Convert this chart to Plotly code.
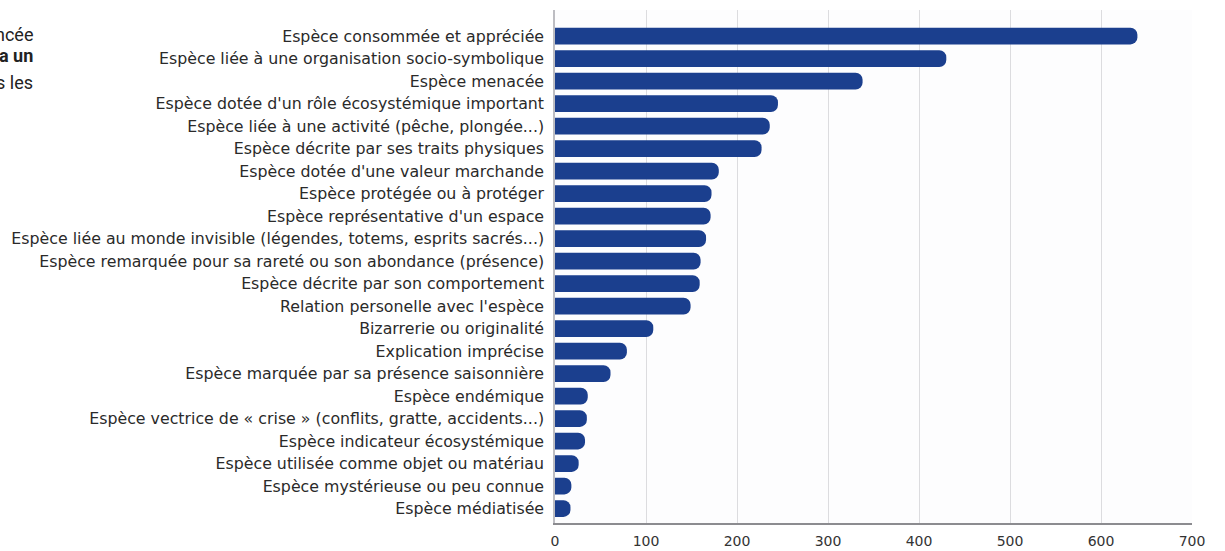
import plotly.graph_objects as go

categories = [
    "Espèce consommée et appréciée",
    "Espèce liée à une organisation socio-symbolique",
    "Espèce menacée",
    "Espèce dotée d'un rôle écosystémique important",
    "Espèce liée à une activité (pêche, plongée...)",
    "Espèce décrite par ses traits physiques",
    "Espèce dotée d'une valeur marchande",
    "Espèce protégée ou à protéger",
    "Espèce représentative d'un espace",
    "Espèce liée au monde invisible (légendes, totems, esprits sacrés...)",
    "Espèce remarquée pour sa rareté ou son abondance (présence)",
    "Espèce décrite par son comportement",
    "Relation personelle avec l'espèce",
    "Bizarrerie ou originalité",
    "Explication imprécise",
    "Espèce marquée par sa présence saisonnière",
    "Espèce endémique",
    "Espèce vectrice de « crise » (conflits, gratte, accidents...)",
    "Espèce indicateur écosystémique",
    "Espèce utilisée comme objet ou matériau",
    "Espèce mystérieuse ou peu connue",
    "Espèce médiatisée",
]
values = [640, 430, 338, 245, 236, 227, 180, 172, 171, 166, 160, 159, 149,
          108, 79, 61, 36, 35, 33, 26, 18, 17]
x_ticks = [0, 100, 200, 300, 400, 500, 600, 700]

L, R, T, B = 555, 1192, 10, 523
W, H = 1225, 551

def px_x(p):
    return (p - L) / (R - L)

def px_y(p):
    return (B - p) / (B - T)

fig = go.Figure(go.Bar(
    x=values, y=categories, orientation="h",
    marker=dict(color="#1b3f8e", cornerradius="45%", line=dict(width=0)),
    width=0.74, hoverinfo="x+y",
))

frags = [("ncée", 34), ("<b>a un</b>", 55), ("s les", 82)]
ann = []
for txt, py in frags:
    ann.append(dict(text=txt, xref="paper", yref="paper", x=px_x(35), y=px_y(py),
                    xanchor="right", yanchor="middle", showarrow=False,
                    font=dict(family="Roboto", size=18, color="#222")))

fig.update_layout(
    width=W, height=H,
    margin=dict(l=L, r=W - R, t=T, b=H - B, pad=0, autoexpand=False),
    paper_bgcolor="white", plot_bgcolor="#fdfdfe",
    showlegend=False,
    annotations=ann,
    font=dict(family="DejaVu Sans", size=15.8, color="#2a2a2a"),
    xaxis=dict(range=[0, 700], tickvals=x_ticks, showgrid=True,
               gridcolor="#dcdcdf", gridwidth=1, zeroline=False,
               showline=True, linecolor="#8c8c90", linewidth=1.5,
               ticks="outside", ticklen=4, tickcolor="rgba(0,0,0,0)",
               tickfont=dict(family="DejaVu Sans", size=14, color="#333"),
               automargin=False, fixedrange=True),
    yaxis=dict(categoryorder="array", categoryarray=categories,
               range=[21.64, -1.16], showgrid=False, zeroline=False,
               showline=True, linecolor="#bdbdc2", linewidth=1.5,
               ticks="outside", ticklen=6, tickcolor="rgba(0,0,0,0)",
               tickfont=dict(family="DejaVu Sans", size=15.8, color="#2a2a2a"),
               automargin=False, fixedrange=True),
    bargap=0.26,
)

fig.write_html("out.html")
